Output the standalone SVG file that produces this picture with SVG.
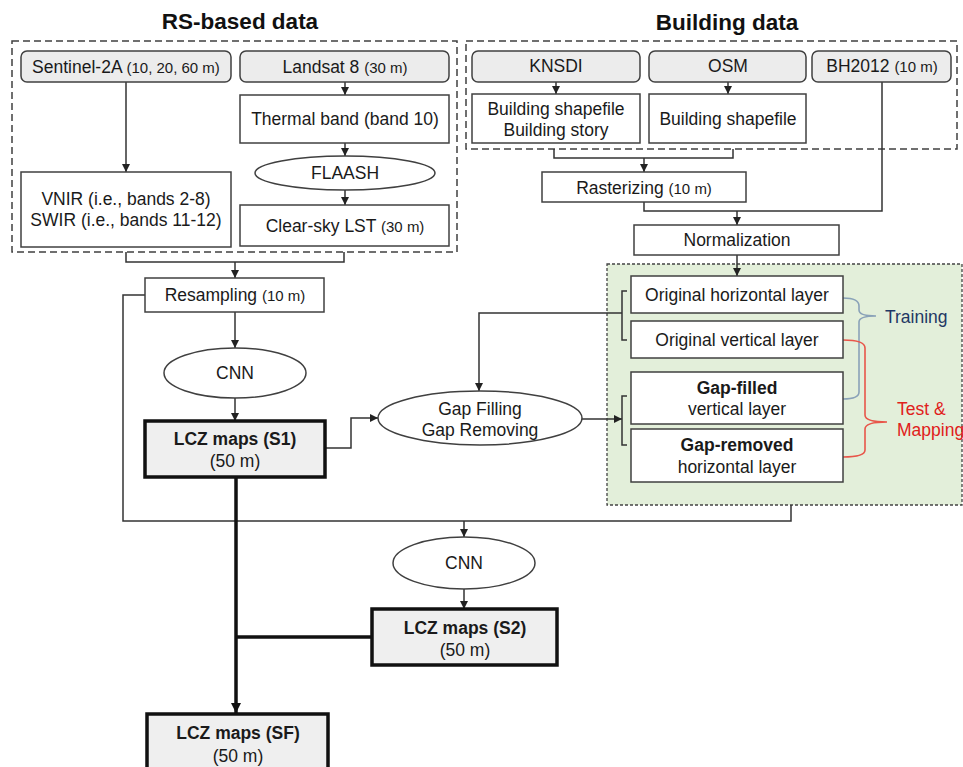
<svg xmlns="http://www.w3.org/2000/svg" width="963" height="767" viewBox="0 0 963 767">
<defs>
<marker id="ah" markerUnits="userSpaceOnUse" markerWidth="9" markerHeight="9" refX="8" refY="4" orient="auto"><path d="M0,0 L8,4 L0,8 z" fill="#222"/></marker>
<marker id="ahb" markerUnits="userSpaceOnUse" markerWidth="12" markerHeight="12" refX="10" refY="5" orient="auto"><path d="M0,0 L10,5 L0,10 z" fill="#111"/></marker>
<style>
text{font-family:"Liberation Sans",Arial,sans-serif;font-size:17.5px;fill:#1a1a1a;text-anchor:middle}
.t{font-size:22.5px;font-weight:bold;fill:#111}
.s{font-size:15px}
.b{font-weight:bold}
.src{fill:#ececec;stroke:#404040;stroke-width:1.5}
.box{fill:#fff;stroke:#404040;stroke-width:1.5}
.lcz{fill:#efefef;stroke:#111;stroke-width:3.5}
.ell{fill:#fff;stroke:#404040;stroke-width:1.5}
.grp{fill:none;stroke:#404040;stroke-width:1.5;stroke-dasharray:7 4}
.c{fill:none;stroke:#333;stroke-width:1.5}
.ct{fill:none;stroke:#111;stroke-width:3.5}
</style>
</defs>

<text class="t" x="240" y="29">RS-based data</text>
<text class="t" x="727" y="30">Building data</text>

<g id="groups">
<rect class="grp" x="12" y="41" width="445" height="211"/>
<rect class="grp" x="466" y="41" width="491" height="108"/>
<rect x="607" y="264" width="355" height="241" fill="#e3efda" stroke="#444" stroke-width="1.3" stroke-dasharray="3 2"/>
</g>

<g id="connectors">
<path class="c" d="M126,82 V172" marker-end="url(#ah)"/>
<path class="c" d="M345,82 V95" marker-end="url(#ah)"/>
<path class="c" d="M345,143 V156" marker-end="url(#ah)"/>
<path class="c" d="M345,190 V205" marker-end="url(#ah)"/>
<path class="c" d="M126,252 V262 H344 V252"/>
<path class="c" d="M235,262 V278" marker-end="url(#ah)"/>
<path class="c" d="M556,82 V94" marker-end="url(#ah)"/>
<path class="c" d="M728,82 V94" marker-end="url(#ah)"/>
<path class="c" d="M554,149 V158 H733 V149"/>
<path class="c" d="M644,158 V172" marker-end="url(#ah)"/>
<path class="c" d="M644,202 V211 H882 V82"/>
<path class="c" d="M737,211 V225" marker-end="url(#ah)"/>
<path class="c" d="M737,255 V276" marker-end="url(#ah)"/>
<path class="c" d="M627,291 H622 V340 H627"/>
<path class="c" d="M622,313 H479 V391" marker-end="url(#ah)"/>
<path class="c" d="M145,295 H123 V521 H791 V505"/>
<path class="c" d="M464,521 V537" marker-end="url(#ah)"/>
<path class="c" d="M235,312 V348" marker-end="url(#ah)"/>
<path class="c" d="M235,398 V421" marker-end="url(#ah)"/>
<path class="c" d="M325,448 H351 V418 H378" marker-end="url(#ah)"/>
<path class="c" d="M582,419 H622" marker-end="url(#ah)"/>
<path class="c" d="M627,396 H622 V445 H627"/>
<path class="c" d="M464,589 V609" marker-end="url(#ah)"/>
<path class="ct" d="M236,477 V713" marker-end="url(#ahb)"/>
<path class="ct" d="M236,637 H372"/>
<path fill="none" stroke="#8aa2b8" stroke-width="1.6" d="M843,298 Q859,298 859,306 V310 Q859,316 876,316 M876,316 Q859,316 859,322 V392 Q859,399 843,399"/>
<path fill="none" stroke="#e8564a" stroke-width="1.6" d="M843,340 Q865,340 865,348 V415 Q865,422 887,422 Q865,422 865,429 V450 Q865,457 843,457"/>
</g>

<g id="sentinel"><rect class="src" x="21" y="51" width="210" height="31" rx="6"/><text x="126" y="73">Sentinel-2A <tspan class="s">(10, 20, 60 m)</tspan></text></g>
<g id="landsat"><rect class="src" x="240" y="51" width="209" height="31" rx="6"/><text x="345" y="73">Landsat 8 <tspan class="s">(30 m)</tspan></text></g>
<g id="thermal"><rect class="box" x="240" y="95" width="209" height="48"/><text x="345" y="125">Thermal band (band 10)</text></g>
<g id="flaash"><ellipse class="ell" cx="345" cy="173" rx="90" ry="17"/><text x="345" y="179">FLAASH</text></g>
<g id="lst"><rect class="box" x="240" y="205" width="209" height="41"/><text x="345" y="232">Clear-sky LST <tspan class="s">(30 m)</tspan></text></g>
<g id="vnir"><rect class="box" x="21" y="172" width="210" height="75"/><text x="126" y="205">VNIR (i.e., bands 2-8)</text><text x="126" y="226">SWIR (i.e., bands 11-12)</text></g>

<g id="knsdi"><rect class="src" x="472" y="51" width="168" height="31" rx="6"/><text x="556" y="72">KNSDI</text></g>
<g id="osm"><rect class="src" x="649" y="51" width="157" height="31" rx="6"/><text x="728" y="72">OSM</text></g>
<g id="bh2012"><rect class="src" x="812" y="51" width="139" height="31" rx="6"/><text x="882" y="72">BH2012 <tspan class="s">(10 m)</tspan></text></g>
<g id="knsdi-bldg"><rect class="box" x="472" y="94" width="168" height="49"/><text x="556" y="115">Building shapefile</text><text x="556" y="136">Building story</text></g>
<g id="osm-bldg"><rect class="box" x="649" y="94" width="157" height="49"/><text x="728" y="125">Building shapefile</text></g>
<g id="raster"><rect class="box" x="542" y="172" width="204" height="30"/><text x="644" y="194">Rasterizing <tspan class="s">(10 m)</tspan></text></g>
<g id="norm"><rect class="box" x="634" y="225" width="205" height="30"/><text x="737" y="246">Normalization</text></g>

<g id="resampling"><rect class="box" x="145" y="278" width="179" height="34"/><text x="235" y="301">Resampling <tspan class="s">(10 m)</tspan></text></g>
<g id="cnn1"><ellipse class="ell" cx="235" cy="373" rx="71" ry="25"/><text x="235" y="379">CNN</text></g>
<g id="s1"><rect class="lcz" x="145" y="421" width="180" height="56"/><text class="b" x="235" y="445">LCZ maps (S1)</text><text x="235" y="467">(50 m)</text></g>
<g id="gap"><ellipse class="ell" cx="480" cy="418" rx="102" ry="27"/><text x="480" y="415">Gap Filling</text><text x="480" y="436">Gap Removing</text></g>

<g id="orig-h"><rect class="box" x="631" y="276" width="212" height="37"/><text x="737" y="301">Original horizontal layer</text></g>
<g id="orig-v"><rect class="box" x="631" y="321" width="212" height="37"/><text x="737" y="346">Original vertical layer</text></g>
<g id="gap-v"><rect class="box" x="631" y="372" width="212" height="52"/><text class="b" x="737" y="394">Gap-filled</text><text x="737" y="415">vertical layer</text></g>
<g id="gap-h"><rect class="box" x="631" y="429" width="212" height="53"/><text class="b" x="737" y="451">Gap-removed</text><text x="737" y="473">horizontal layer</text></g>
<g id="training"><text x="885" y="323" style="text-anchor:start;fill:#1f3864">Training</text></g>
<g id="test"><text x="897" y="415" style="text-anchor:start;fill:#e0201b">Test &amp;</text><text x="897" y="436" style="text-anchor:start;fill:#e0201b">Mapping</text></g>

<g id="cnn2"><ellipse class="ell" cx="464" cy="563" rx="71" ry="26"/><text x="464" y="569">CNN</text></g>
<g id="s2"><rect class="lcz" x="372" y="609" width="185" height="56"/><text class="b" x="465" y="634">LCZ maps (S2)</text><text x="465" y="656">(50 m)</text></g>
<g id="sf"><rect class="lcz" x="147" y="714" width="181" height="58"/><text class="b" x="238" y="739">LCZ maps (SF)</text><text x="238" y="762">(50 m)</text></g>
</svg>
